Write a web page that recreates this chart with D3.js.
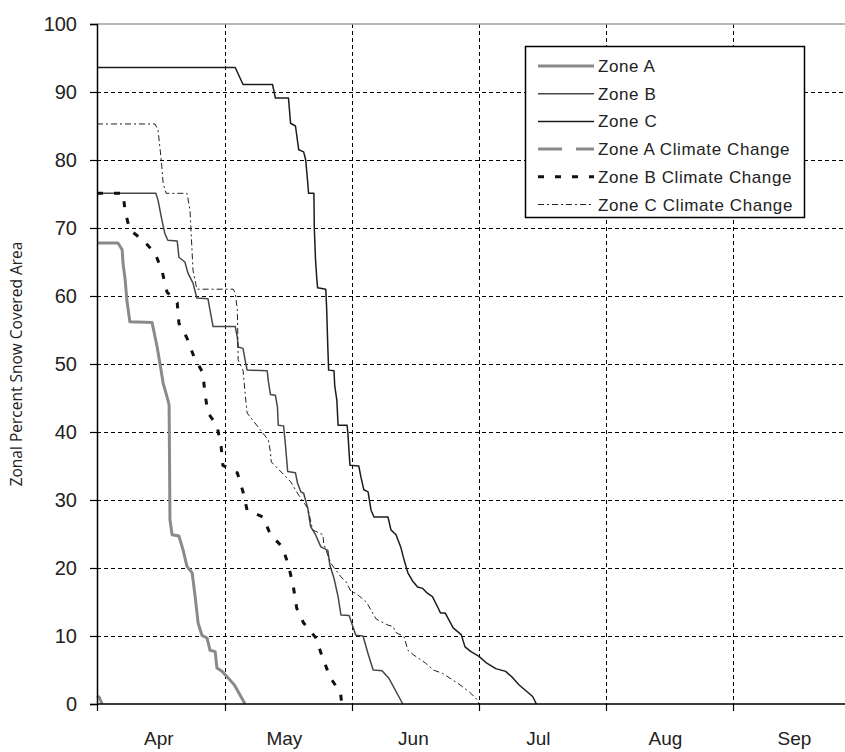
<!DOCTYPE html>
<html>
<head>
<meta charset="utf-8">
<script src="https://cdn.jsdelivr.net/npm/d3@7/dist/d3.min.js"></script>
<style>
  html, body { margin: 0; padding: 0; background: #fff; }
  svg { display: block; }
</style>
</head>
<body>
<svg id="chart" width="845" height="752"></svg>
<script>
// Zonal snow covered area, Apr–Sep. x = day since Apr 1, y = percent.

const monthStarts = [0, 30, 61, 91, 122, 153];
const monthLabels = ['Apr', 'May', 'Jun', 'Jul', 'Aug', 'Sep'];
const yTicks = [0, 10, 20, 30, 40, 50, 60, 70, 80, 90, 100];

const zoneA = [
  [0, 67.8], [4.9, 67.8], [5.9, 66.8], [6.1, 64.8], [6.6, 62.4], [7.0, 59.4], [7.7, 56.2],
  [12.9, 56.1], [13.6, 54], [14.1, 52.5], [14.8, 49.9], [15.5, 47.2], [16.4, 45.2], [16.9, 44],
  [17.1, 27.1], [17.6, 24.9], [19.2, 24.7], [20.2, 22.6], [21.1, 20.2], [22.3, 19.3], [23.0, 15.8],
  [23.7, 11.9], [24.6, 10.1], [25.8, 9.7], [26.5, 7.9], [27.7, 7.7], [28.1, 5.3], [29.3, 4.8],
  [30.5, 4.0], [32.3, 2.8], [34.9, 0]
];
const zoneB = [
  [0, 75.1], [13.8, 75.1], [14.3, 74.1], [15.2, 71.2], [15.9, 69.2], [16.6, 68.2], [18.8, 68.1],
  [19.2, 65.7], [20.6, 65], [21.3, 63.4], [22.5, 61.9], [23.4, 59.7], [26.0, 59.6], [26.5, 57.9],
  [27.2, 55.5], [32.5, 55.5], [33.0, 54], [33.2, 52.5], [34.4, 52.3], [34.9, 50.6], [35.4, 49.1],
  [40.3, 49], [40.6, 47.4], [41.1, 45.5], [42.3, 45.4], [42.8, 43.7], [43.0, 41], [44.3, 40.9],
  [44.8, 37.8], [45.3, 34.2], [47.2, 34], [47.7, 32.5], [48.5, 31.2], [49.2, 31], [50.2, 28.8],
  [50.9, 26.1], [52.1, 24.9], [53.4, 23.1], [55.1, 22.6], [55.6, 20.4], [56.6, 18.5], [57.6, 15.8],
  [58.3, 13.1], [60.3, 13], [61.2, 11.4], [61.9, 10.1], [63.6, 10], [64.8, 7.4], [66.0, 5],
  [68.1, 4.9], [69.7, 3.8], [73.0, 0]
];
const zoneC = [
  [0, 93.6], [32.5, 93.6], [34.4, 91.1], [41.6, 91.1], [42.3, 89.1], [45.5, 89.1], [46.0, 85.4],
  [47.2, 85], [48.0, 81.5], [49.2, 81.2], [49.7, 80], [50.2, 76.6], [50.4, 75.1], [51.7, 75.1],
  [51.8, 70], [52.1, 65.3], [52.4, 62.6], [52.6, 61.2], [54.6, 61], [54.8, 58.4], [55.1, 52.4],
  [55.3, 49.1], [56.6, 49], [56.8, 46.7], [57.3, 44.7], [57.6, 41], [59.8, 41], [60.0, 39.8],
  [60.3, 36.9], [60.5, 35.1], [62.6, 35], [63.1, 33.4], [63.8, 31.5], [64.8, 31.2], [65.5, 28.5],
  [66.2, 27.5], [69.5, 27.5], [70.2, 25.6], [71.4, 24.9], [72.5, 23.1], [73.3, 21.2], [74.2, 19.3],
  [75.4, 18], [76.5, 17.2], [77.7, 17], [78.8, 16.3], [80.0, 15.8], [81.2, 14.3], [81.9, 13.4],
  [83.0, 13.4], [84.9, 11.2], [86.8, 10.2], [87.7, 8.4], [89.1, 7.7], [91.0, 7.0], [92.9, 6.0],
  [95.1, 5.2], [97.5, 4.8], [99.0, 4.0], [100.8, 2.8], [104.1, 1.1], [105.0, 0]
];
const zoneACC = [[0, 1.2], [0.5, 1.0], [1.2, 0]];
const zoneBCC = [
  [0, 75.1], [6.1, 75.1], [6.6, 72.4], [7.7, 69.7], [10.8, 68.2], [13.6, 66.3], [15.2, 63.8],
  [16.4, 60.6], [18.8, 59], [19.2, 56], [21.1, 53.8], [22.7, 51.1], [24.8, 48.7], [25.3, 45.7],
  [26.0, 42.8], [28.1, 41], [29.1, 37.8], [29.5, 35.1], [33.0, 34], [34.4, 31.2], [35.4, 28.5],
  [39.3, 27.5], [41.1, 24.9], [44.0, 23.1], [45.5, 20.4], [46.7, 17.2], [47.5, 14.1], [49.2, 11.9],
  [52.1, 9.8], [53.6, 7.2], [55.6, 4.0], [58.2, 1.6], [58.5, 0]
];
const zoneCCC = [
  [0, 85.3], [13.6, 85.3], [14.3, 84.4], [14.8, 81.5], [15.2, 79], [15.5, 76.6], [16.2, 75.1],
  [21.1, 75.1], [21.8, 72.6], [22.3, 66.3], [22.5, 63.8], [23.4, 61], [32.0, 61], [32.5, 60.4],
  [33.0, 58], [33.1, 55.5], [33.2, 50.6], [34.4, 49.1], [34.9, 45.7], [35.4, 42.8], [40.6, 38.8],
  [41.1, 37], [41.3, 35.6], [46.0, 32.7], [48.0, 30.7], [50.2, 28.8], [51.4, 25.6], [53.9, 24.9],
  [54.1, 23.6], [55.8, 20.7], [58.3, 18.7], [59.5, 18], [60.8, 16.5], [61.9, 16.3], [64.4, 15],
  [66.7, 12.5], [69.5, 11.6], [70.7, 11.4], [71.4, 10.5], [73.3, 9.9], [74.2, 7.9], [75.6, 7.2],
  [78.4, 6.0], [80.2, 5.0], [82.4, 4.5], [86.1, 3.0], [88.7, 1.8], [90.6, 0.6], [91.0, 0]
];

const seriesNames = ['Zone A', 'Zone B', 'Zone C', 'Zone A Climate Change', 'Zone B Climate Change', 'Zone C Climate Change'];
const seriesData = [zoneA, zoneB, zoneC, zoneACC, zoneBCC, zoneCCC];
const seriesStyle = [
  { stroke: '#8a8a8a', width: 3, dash: null },
  { stroke: '#474747', width: 1.5, dash: null },
  { stroke: '#1c1c1c', width: 1.5, dash: null },
  { stroke: '#8a8a8a', width: 3, dash: '24,14' },
  { stroke: '#111', width: 3, dash: '6,11' },
  { stroke: '#222', width: 1, dash: '6,3,2,3' }
];

const svg = d3.select('#chart');
const W = 845;
const FONT = '"Liberation Sans", Arial, sans-serif';

// month boundaries are evenly spaced in the original (category-like date axis)
const x = d3.scaleLinear().domain([0, 30, 61, 91, 122, 153, 183]).range([97, 225, 352, 479, 606, 733, 860]);
const y = d3.scaleLinear().domain([0, 100]).range([704, 24]);

// gridlines
const grid = svg.append('g').attr('stroke', '#000').attr('stroke-width', 1).attr('stroke-dasharray', '4,3');
grid.selectAll('line.h').data(yTicks.filter(v => v > 0 && v < 100)).join('line')
  .attr('x1', x(0)).attr('x2', W).attr('y1', d => y(d) + 0.5).attr('y2', d => y(d) + 0.5);
grid.selectAll('line.v').data(monthStarts.filter(d => d > 0)).join('line')
  .attr('x1', d => Math.round(x(d)) + 0.5).attr('x2', d => Math.round(x(d)) + 0.5)
  .attr('y1', y(100)).attr('y2', y(0));

// top border of plot area
svg.append('line').attr('x1', x(0)).attr('x2', W).attr('y1', y(100)).attr('y2', y(100))
  .attr('stroke', '#a0a0a0').attr('stroke-width', 1.5);

// series
const line = d3.line().x(d => x(d[0])).y(d => y(d[1]));
svg.append('g').selectAll('path').data(seriesData).join('path')
  .attr('d', line)
  .attr('fill', 'none')
  .attr('stroke', (d, i) => seriesStyle[i].stroke)
  .attr('stroke-width', (d, i) => seriesStyle[i].width)
  .attr('stroke-dasharray', (d, i) => seriesStyle[i].dash)
  .attr('stroke-linejoin', 'round');

// y axis
const yAxis = d3.axisLeft(y).tickValues(yTicks).tickSize(7).tickPadding(13);
const gy = svg.append('g').attr('transform', `translate(${x(0)},0)`).call(yAxis);
gy.select('.domain').attr('stroke', '#000').attr('stroke-width', 1.5);
gy.selectAll('.tick line').attr('stroke', '#000').attr('stroke-width', 1.2);
gy.selectAll('.tick text').attr('font-family', FONT).attr('font-size', 20).attr('fill', '#222');

// x axis line + tick marks at month boundaries
svg.append('line').attr('x1', x(0)).attr('x2', W).attr('y1', y(0)).attr('y2', y(0))
  .attr('stroke', '#000').attr('stroke-width', 1.5);
svg.append('g').selectAll('line').data(monthStarts).join('line')
  .attr('x1', d => Math.round(x(d)) + 0.5).attr('x2', d => Math.round(x(d)) + 0.5)
  .attr('y1', y(0)).attr('y2', y(0) + 7)
  .attr('stroke', '#000').attr('stroke-width', 1.2);
svg.append('g').selectAll('text').data(monthLabels).join('text')
  .attr('x', (d, i) => x(monthStarts[i] + 14.5))
  .attr('y', 745)
  .attr('text-anchor', 'middle')
  .attr('font-family', FONT).attr('font-size', 19).attr('fill', '#222')
  .text(d => d);

// y title
svg.append('text')
  .attr('transform', `translate(22,${y(50)}) rotate(-90)`)
  .attr('text-anchor', 'middle')
  .attr('font-family', '"Open Sans", sans-serif').attr('font-size', 15.5).attr('fill', '#222')
  .text('Zonal Percent Snow Covered Area');

// legend
const lg = svg.append('g');
lg.append('rect').attr('x', 525.5).attr('y', 46.5).attr('width', 279).attr('height', 171)
  .attr('fill', '#fff').attr('stroke', '#000').attr('stroke-width', 1.5);
const rows = lg.selectAll('g.row').data(seriesNames).join('g')
  .attr('transform', (d, i) => `translate(0,${66 + i * 27.7})`);
rows.append('line').attr('x1', 538).attr('x2', 594).attr('y1', 0).attr('y2', 0)
  .attr('stroke', (d, i) => seriesStyle[i].stroke)
  .attr('stroke-width', (d, i) => seriesStyle[i].width)
  .attr('stroke-dasharray', (d, i) => seriesStyle[i].dash);
rows.append('text').attr('x', 598).attr('y', 6)
  .attr('font-family', FONT).attr('font-size', 17).attr('letter-spacing', 0.6).attr('fill', '#222')
  .text(d => d);
</script>
</body>
</html>
